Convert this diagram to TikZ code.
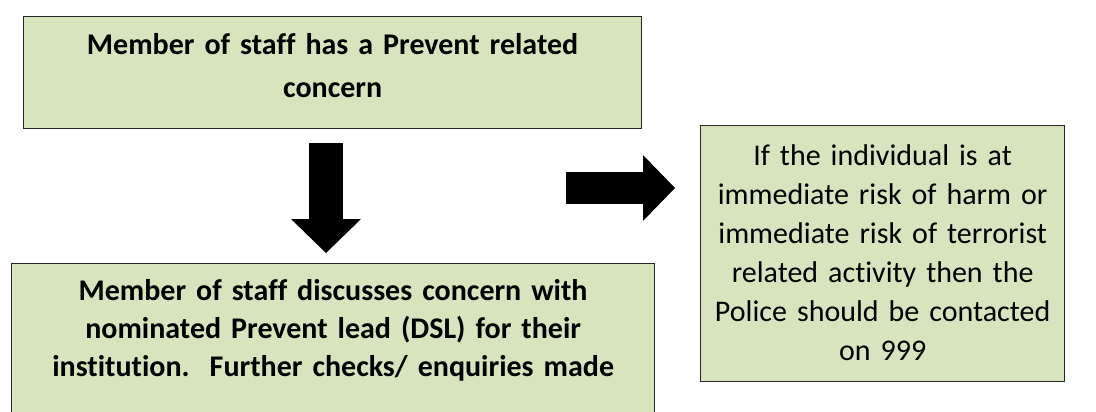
\documentclass[tikz,border=0pt]{standalone}
\usepackage{fontspec}
\setmainfont{Carlito}[Ligatures=NoCommon, WordSpace=0.8]
\usetikzlibrary{arrows.meta}
\definecolor{boxgreen}{RGB}{215,228,189}

\begin{document}
\begin{tikzpicture}[x=1pt, y=-1pt]

  \tikzset{
    flowbox/.style={
      draw=black!85,
      fill=boxgreen,
      line width=1.3pt,
      anchor=north west,
      inner sep=0pt,
      align=center
    },
    leftbox/.style={
      flowbox,
      font=\bfseries\fontsize{30}{43}\selectfont
    },
    rightbox/.style={
      flowbox,
      font=\fontsize{30}{39}\selectfont
    },
    blockarrow/.style={
      draw=black,
      line cap=butt
    }
  }

  \useasboundingbox (0,0) rectangle (1096,412);

  \node[leftbox, text width=618pt, text height=38pt, text depth=74pt] (concern) at (23, 16)
    {Member of staff has a Prevent related\\ concern};
  \node[leftbox, text width=643pt, text height=37pt, text depth=120pt,
        font=\bfseries\fontsize{30}{38}\selectfont] (discuss) at (11, 263)
    {Member of staff discusses concern with\\ nominated Prevent lead (DSL) for their\\ institution.\ \ Further checks/ enquiries made};
  \node[rightbox, text width=364pt, text height=40pt, text depth=216pt] (police) at (700, 125)
    {If the individual is at\\ immediate risk of harm or\\ immediate risk of terrorist\\ related activity then the\\ Police should be contacted\\ on 999};

  \coordinate (down start) at (326, 143);
  \coordinate (down tip) at (326, 253);
  \coordinate (right start) at (566, 188);
  \coordinate (right tip) at (675, 188);

  \draw[blockarrow, line width=34pt, -{Triangle[length=34pt, width=70pt, line width=0pt]}] (down start) -- (down tip);
  \draw[blockarrow, line width=32pt, -{Triangle[length=32pt, width=66pt, line width=0pt]}] (right start) -- (right tip);

\end{tikzpicture}
\end{document}
